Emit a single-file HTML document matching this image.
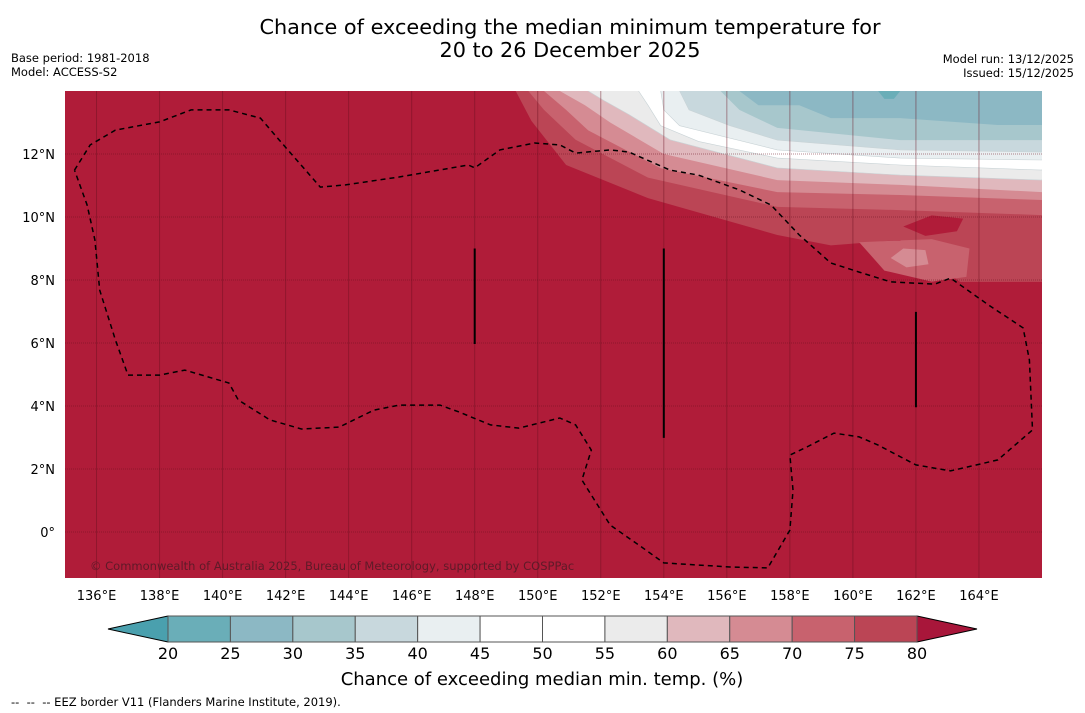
<!DOCTYPE html>
<html><head><meta charset="utf-8"><style>
body{margin:0;background:#fff;width:1085px;height:713px;overflow:hidden;font-family:"DejaVu Sans","Liberation Sans",sans-serif;}
svg{display:block}
</style></head><body>
<svg id="chart" width="1085" height="713" viewBox="0 0 1085 713">
<text x="570" y="34" font-size="20.8" text-anchor="middle">Chance of exceeding the median minimum temperature for</text>
<text x="570" y="57" font-size="20.8" text-anchor="middle">20 to 26 December 2025</text>
<text x="11" y="62" font-size="11.5">Base period: 1981-2018</text>
<text x="11" y="76" font-size="11.5">Model: ACCESS-S2</text>
<text x="1074" y="63" font-size="11.5" text-anchor="end">Model run: 13/12/2025</text>
<text x="1074" y="77" font-size="11.5" text-anchor="end">Issued: 15/12/2025</text>
<defs><clipPath id="mapclip"><rect x="65" y="91" width="977" height="487"/></clipPath></defs>
<g id="map" clip-path="url(#mapclip)">
<rect x="65" y="91" width="977" height="487" fill="#b01c39"/>
<g id="bands"></g>
<g id="grid"></g>
<g id="features"></g>
<text x="90" y="570" font-size="11.5" fill="#5e1a28">© Commonwealth of Australia 2025, Bureau of Meteorology, supported by COSPPac</text>
</g>
<g id="xticks"></g>
<g id="yticks"></g>
<g id="colorbar"></g>
<text x="542" y="685" font-size="18" text-anchor="middle">Chance of exceeding median min. temp. (%)</text>
<text x="11" y="706" font-size="11.5" xml:space="preserve" style="white-space:pre">--  --  -- EEZ border V11 (Flanders Marine Institute, 2019).</text>
</svg>
<script>
const NS="http://www.w3.org/2000/svg";
// Map extent
const lonMin=135, lonMax=166, latMin=-1.46, latMax=14;
const lonTicks=[136,138,140,142,144,146,148,150,152,154,156,158,160,162,164];
const latTicks=[0,2,4,6,8,10,12];
// Colorbar levels and colours
const levels=[20,25,30,35,40,45,50,55,60,65,70,75,80];
const bandColors=["#6aaeb8","#8cb8c4","#a7c7cc","#c8d8dd","#e9eff1","#ffffff","#ffffff","#ebebeb","#e0b8bd","#d58b93","#c8626e","#bb4555"];
const underColor="#4aa0ae", overColor="#a8163a";
// Contour boundaries: region ABOVE each line has value < level (lon, lat)
const contourLevels=[80,75,70,65,60,55,45,40,35,30];
const contourLines=[
 [[149.3,14],[149.8,13.05],[150.9,11.65],[153.5,10.6],[157.6,9.43],[159.3,9.1],[161.5,9.27],[163.4,7.94],[166,7.94]],
 [[149.7,14],[150.2,13.4],[151.2,12.45],[153.5,11.25],[157.6,10.32],[161.5,10.22],[166,10.06]],
 [[150.2,14],[150.9,13.4],[151.6,12.75],[153.9,11.55],[157.6,10.79],[161.5,10.7],[166,10.54]],
 [[150.7,14],[151.5,13.55],[152.3,13],[154,12],[157.6,11.17],[161.5,11.02],[166,10.79]],
 [[151.6,14],[152.1,13.7],[152.9,13.25],[154.2,12.45],[157.6,11.56],[161.5,11.33],[166,11.17]],
 [[153.2,14],[153.5,13.55],[153.9,12.9],[155.1,12.4],[157.6,11.87],[161.5,11.65],[166,11.49]],
 [[153.9,14],[154,13.4],[154.5,12.9],[157.6,12.13],[161.5,11.87],[166,11.81]],
 [[154.5,14],[154.8,13.4],[156.1,12.9],[157.6,12.44],[161.5,12.13],[166,12.06]],
 [[155.8,14],[156.4,13.4],[157.6,12.83],[161.5,12.44],[166,12.44]],
 [[156.4,14],[157,13.55],[158.3,13.55],[159.3,13.14],[161.5,13.14],[164.6,12.92],[166,12.92]]
];
// Closed blobs (lon, lat)
const blobs=[
 [[159.4,14],[159.6,13.71],[160.5,13.46],[161.5,13.71],[163.4,13.84],[163.5,14]],
 [[160.8,14],[161,13.75],[161.3,13.75],[161.5,14]],
 [[160.2,9.2],[161,8.3],[162.5,7.95],[163.6,8.1],[163.7,9.0],[162.5,9.3]],
 [[161.6,9.7],[162.3,9.4],[163.3,9.55],[163.5,9.95],[162.5,10.05]],
 [[161.2,8.7],[161.7,8.4],[162.4,8.5],[162.3,8.95],[161.6,9.0]]
];
const blobColorIdx=[1,0,10,-1,9];
// EEZ boundary (lon, lat)
const eez=[[135.3,11.49],[135.8,12.29],[136.6,12.76],[138.0,13.02],[139.0,13.4],[140.2,13.4],[141.2,13.14],[141.8,12.44],[143.1,10.95],[143.9,11.02],[145.6,11.27],[147.8,11.65],[148.0,11.56],[148.8,12.13],[149.9,12.35],[150.7,12.29],[151.2,12.03],[152.3,12.13],[152.9,12.06],[154.2,11.49],[155.1,11.33],[156.4,10.86],[157.4,10.38],[158.3,9.43],[159.3,8.54],[160.2,8.25],[161.2,7.94],[162.6,7.87],[163.1,8.06],[164.3,7.21],[165.4,6.48],[165.6,5.46],[165.7,3.24],[164.6,2.29],[163.1,1.94],[162.0,2.13],[160.8,2.76],[160.2,3.02],[159.4,3.14],[158.6,2.73],[158.0,2.44],[158.1,1.33],[158.0,0.06],[157.3,-1.14],[156.1,-1.11],[154.0,-0.98],[153.2,-0.41],[152.3,0.22],[151.4,1.65],[151.7,2.6],[151.2,3.4],[150.7,3.62],[149.4,3.3],[148.5,3.4],[147.5,3.81],[146.9,4.03],[145.6,4.03],[144.8,3.87],[143.7,3.33],[142.5,3.27],[141.5,3.56],[140.5,4.19],[140.2,4.73],[138.8,5.14],[138.0,4.98],[137.0,4.98],[136.6,6.1],[136.1,7.68],[135.95,9.27],[135.7,10.38],[135.3,11.49]];
// Vertical line features [lon, lat1, lat2]
const vlines=[[148,9.0,5.97],[154,9.0,2.99],[162,6.99,3.96]];

const X=lon=>65+(lon-lonMin)/(lonMax-lonMin)*977;
const Y=lat=>91+(latMax-lat)/(latMax-latMin)*487;
function el(tag,attrs,parent){const e=document.createElementNS(NS,tag);for(const k in attrs)e.setAttribute(k,attrs[k]);parent.appendChild(e);return e;}
const pts=a=>a.map(p=>X(p[0]).toFixed(1)+","+Y(p[1]).toFixed(1)).join(" ");

const bands=document.getElementById("bands");
contourLines.forEach((line,i)=>{
  const lvl=contourLevels[i];
  const ci=levels.indexOf(lvl)-1;
  const poly=line.concat([[lonMax+1,latMax+1],[line[0][0],latMax+1]]);
  const p=el("polygon",{points:pts(poly),fill:bandColors[ci],stroke:"#c9d3d6","stroke-width":lvl<=60&&lvl>=40?0.6:0},bands);
  
  
});
blobs.forEach((b,i)=>{
  const c=blobColorIdx[i]<0?"#b01c39":bandColors[blobColorIdx[i]];
  const p=el("polygon",{points:pts(b),fill:c},bands);
  
  
});

const grid=document.getElementById("grid");
lonTicks.forEach(l=>{
  const g=el("line",{x1:X(l),x2:X(l),y1:91,y2:578,stroke:"#6b1020","stroke-opacity":0.45,"stroke-width":1},grid);
  
  
  const t=el("text",{x:X(l),y:600,"font-size":13,"text-anchor":"middle"},document.getElementById("xticks"));
  t.textContent=l+"°E";
  
  
});
latTicks.forEach(l=>{
  const g=el("line",{x1:65,x2:1042,y1:Y(l),y2:Y(l),stroke:"#6b1020","stroke-opacity":0.5,"stroke-width":1,"stroke-dasharray":"1,1"},grid);
  
  
  const t=el("text",{x:55,y:Y(l)+5,"font-size":13,"text-anchor":"end"},document.getElementById("yticks"));
  t.textContent=l===0?"0°":l+"°N";
  
  
});

const feat=document.getElementById("features");
const e=el("polyline",{points:pts(eez),fill:"none",stroke:"#000","stroke-width":1.5,"stroke-dasharray":"5,4"},feat);


vlines.forEach(v=>{
  const l=el("line",{x1:X(v[0]),x2:X(v[0]),y1:Y(v[1]),y2:Y(v[2]),stroke:"#000","stroke-width":2},feat);
  
  
});

// colorbar
const cb=document.getElementById("colorbar");
const cbX0=168,cbX1=917,cbY0=616,cbY1=642;
const CX=v=>cbX0+(v-levels[0])/(levels[levels.length-1]-levels[0])*(cbX1-cbX0);
const lt=el("polygon",{points:`${cbX0},${cbY0} 108,${(cbY0+cbY1)/2} ${cbX0},${cbY1}`,fill:underColor,stroke:"#000","stroke-width":1},cb);


const rt=el("polygon",{points:`${cbX1},${cbY0} 977,${(cbY0+cbY1)/2} ${cbX1},${cbY1}`,fill:overColor,stroke:"#000","stroke-width":1},cb);


bandColors.forEach((c,i)=>{
  const r=el("rect",{x:CX(levels[i]),y:cbY0,width:CX(levels[i+1])-CX(levels[i]),height:cbY1-cbY0,fill:c,stroke:"#555","stroke-width":1},cb);
  
  
});
levels.forEach(v=>{
  const t=el("text",{x:CX(v),y:659,"font-size":16,"text-anchor":"middle"},cb);
  t.textContent=v;
  
  
});
</script>
</body></html>
